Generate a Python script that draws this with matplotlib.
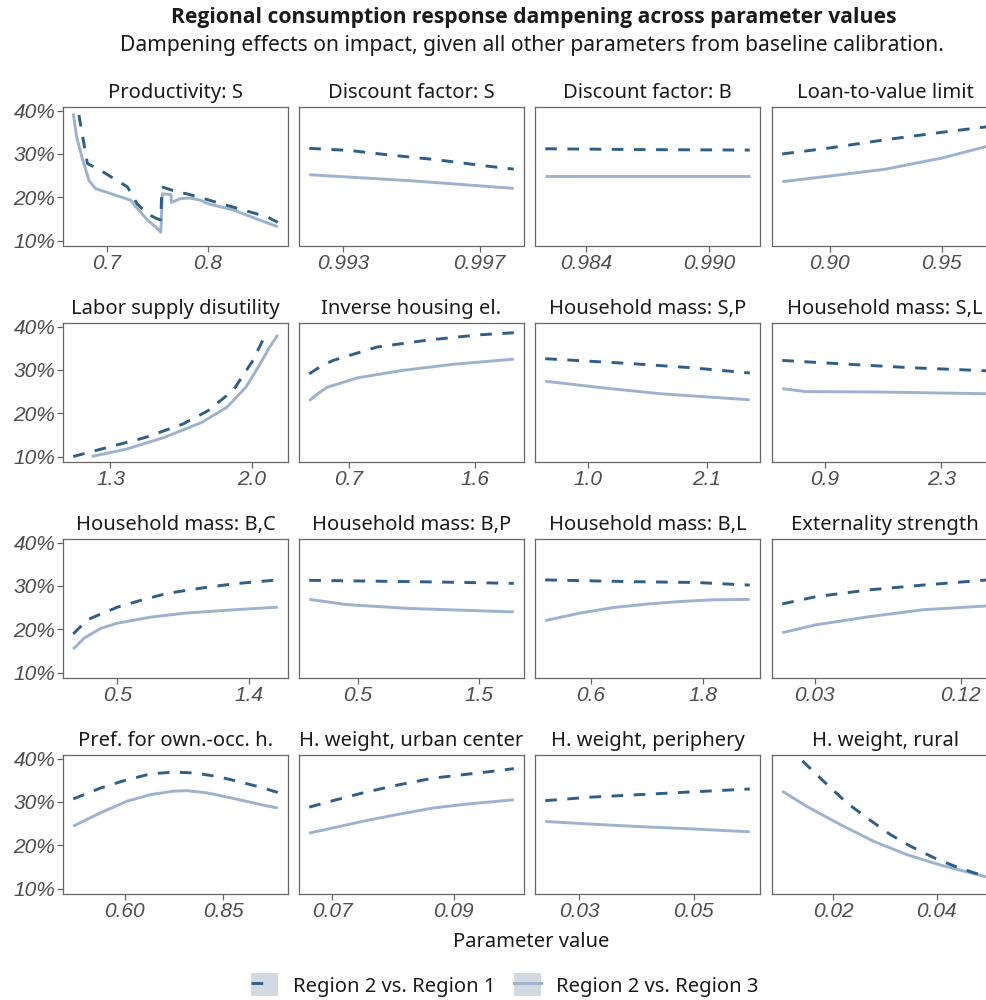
import matplotlib
matplotlib.use("Agg")
import matplotlib.pyplot as plt
from matplotlib.lines import Line2D
from matplotlib.patches import Patch
from matplotlib.legend_handler import HandlerTuple
from matplotlib.ticker import FuncFormatter, FixedLocator

# ---------------- data (in %) ----------------
panel_titles = [
    "Productivity: S", "Discount factor: S", "Discount factor: B", "Loan-to-value limit",
    "Labor supply disutility", "Inverse housing el.", "Household mass: S,P", "Household mass: S,L",
    "Household mass: B,C", "Household mass: B,P", "Household mass: B,L", "Externality strength",
    "Pref. for own.-occ. h.", "H. weight, urban center", "H. weight, periphery", "H. weight, rural",
]
tick_values = [
    [0.7, 0.8], [0.993, 0.997], [0.984, 0.990], [0.90, 0.95],
    [1.3, 2.0], [0.7, 1.6], [1.0, 2.1], [0.9, 2.3],
    [0.5, 1.4], [0.5, 1.5], [0.6, 1.8], [0.03, 0.12],
    [0.60, 0.85], [0.07, 0.09], [0.03, 0.05], [0.02, 0.04],
]
tick_labels = [
    ["0.7", "0.8"], ["0.993", "0.997"], ["0.984", "0.990"], ["0.90", "0.95"],
    ["1.3", "2.0"], ["0.7", "1.6"], ["1.0", "2.1"], ["0.9", "2.3"],
    ["0.5", "1.4"], ["0.5", "1.5"], ["0.6", "1.8"], ["0.03", "0.12"],
    ["0.60", "0.85"], ["0.07", "0.09"], ["0.03", "0.05"], ["0.02", "0.04"],
]
y_ticks = [10, 20, 30, 40]
series_names = ["Region 2 vs. Region 1", "Region 2 vs. Region 3"]

# Region 2 vs Region 1 (dashed)
r1_x_01 = [0.6726, 0.681, 0.694, 0.7205, 0.730, 0.740, 0.750, 0.7535, 0.7545, 0.770, 0.779, 0.796, 0.813, 0.836, 0.859, 0.869]
r1_y_01 = [39.0, 27.8, 26.2, 22.4, 18.5, 16.2, 15.0, 14.8, 22.4, 21.2, 20.8, 19.7, 18.5, 17.0, 15.4, 14.2]
r1_x_02 = [0.9920, 0.9932, 0.9943, 0.9957, 0.9971, 0.9980]
r1_y_02 = [31.3, 30.8, 29.8, 28.7, 27.3, 26.5]
r1_x_03 = [0.982, 0.987, 0.992]
r1_y_03 = [31.2, 31.0, 30.9]
r1_x_04 = [0.8787, 0.90, 0.925, 0.95, 0.9706]
r1_y_04 = [30.0, 31.4, 33.3, 35.0, 36.3]
r1_x_05 = [1.116, 1.285, 1.472, 1.658, 1.783, 1.907, 2.0, 2.062]
r1_y_05 = [10.0, 12.1, 14.4, 17.5, 20.6, 25.3, 31.9, 37.7]
r1_x_06 = [0.42, 0.50, 0.589, 0.903, 1.263, 1.623, 1.875]
r1_y_06 = [29.1, 30.8, 32.2, 35.3, 36.9, 38.1, 38.6]
r1_x_07 = [0.6, 1.38, 1.965, 2.5]
r1_y_07 = [32.6, 31.5, 30.5, 29.3]
r1_x_08 = [0.39, 1.204, 1.96, 2.86]
r1_y_08 = [32.2, 31.3, 30.5, 29.8]
r1_x_09 = [0.199, 0.295, 0.5, 0.682, 0.842, 1.070, 1.297, 1.594]
r1_y_09 = [18.9, 22.2, 25.1, 26.9, 28.3, 29.5, 30.5, 31.4]
r1_x_10 = [0.1, 0.667, 1.188, 1.79]
r1_y_10 = [31.3, 31.1, 30.9, 30.6]
r1_x_11 = [0.109, 1.012, 1.728, 2.30]
r1_y_11 = [31.4, 31.0, 30.8, 30.2]
r1_x_12 = [0.01, 0.0304, 0.0636, 0.0967, 0.1367]
r1_y_12 = [25.85, 27.5, 29.1, 30.2, 31.4]
r1_x_13 = [0.47, 0.539, 0.598, 0.666, 0.725, 0.776, 0.835, 0.894, 0.945, 0.9885]
r1_y_13 = [30.7, 33.2, 34.9, 36.5, 36.9, 36.7, 35.9, 34.6, 33.4, 32.2]
r1_x_14 = [0.0662, 0.0701, 0.0756, 0.0811, 0.0866, 0.0965, 0.0999]
r1_y_14 = [28.8, 30.3, 32.3, 34.0, 35.5, 37.1, 37.7]
r1_x_15 = [0.0241, 0.0319, 0.0406, 0.0493, 0.0598]
r1_y_15 = [30.3, 31.1, 31.7, 32.3, 33.0]
r1_x_16 = [0.0140, 0.0181, 0.0226, 0.0265, 0.0310, 0.0349, 0.0395, 0.0434, 0.0473, 0.0499]
r1_y_16 = [39.5, 34.8, 29.8, 26.3, 22.5, 19.8, 17.1, 15.2, 13.6, 12.8]

# Region 2 vs Region 3 (solid)
r3_x_01 = [0.667, 0.6703, 0.6759, 0.6825, 0.689, 0.7238, 0.728, 0.740, 0.750, 0.7535, 0.755, 0.7635, 0.764, 0.773, 0.7825, 0.793, 0.800, 0.826, 0.848, 0.869]
r3_y_01 = [39.4, 34.0, 29.0, 23.9, 22.0, 19.3, 18.0, 14.8, 12.8, 11.9, 20.8, 20.6, 18.8, 19.7, 19.8, 19.3, 18.5, 17.0, 15.0, 13.2]
r3_x_02 = [0.992, 0.995, 0.998]
r3_y_02 = [25.2, 23.8, 22.05]
r3_x_03 = [0.982, 0.987, 0.992]
r3_y_03 = [24.9, 24.9, 24.9]
r3_x_04 = [0.8787, 0.90, 0.925, 0.95, 0.9706]
r3_y_04 = [23.6, 24.9, 26.5, 29.05, 31.8]
r3_x_05 = [1.207, 1.378, 1.565, 1.752, 1.876, 1.969, 2.031, 2.087, 2.127]
r3_y_05 = [10.0, 11.7, 14.4, 17.9, 21.4, 26.0, 30.7, 35.3, 38.1]
r3_x_06 = [0.42, 0.48, 0.5475, 0.7675, 1.0825, 1.442, 1.875]
r3_y_06 = [22.9, 24.5, 26.0, 28.2, 29.9, 31.3, 32.5]
r3_x_07 = [0.6, 1.088, 1.673, 2.5]
r3_y_07 = [27.4, 26.0, 24.5, 23.1]
r3_x_08 = [0.39, 0.673, 1.581, 2.86]
r3_y_08 = [25.7, 25.0, 24.9, 24.5]
r3_x_09 = [0.199, 0.272, 0.386, 0.5, 0.728, 0.956, 1.297, 1.594]
r3_y_09 = [15.4, 17.9, 20.2, 21.4, 22.8, 23.7, 24.5, 25.1]
r3_x_10 = [0.1, 0.406, 0.927, 1.79]
r3_y_10 = [26.9, 25.7, 24.8, 24.0]
r3_x_11 = [0.109, 0.475, 0.833, 1.191, 1.549, 1.907, 2.30]
r3_y_11 = [22.0, 23.7, 25.0, 25.8, 26.4, 26.8, 26.9]
r3_x_12 = [0.01, 0.0304, 0.0636, 0.0967, 0.1367]
r3_y_12 = [19.2, 21.0, 22.9, 24.5, 25.4]
r3_x_13 = [0.47, 0.539, 0.607, 0.666, 0.725, 0.759, 0.809, 0.877, 0.945, 0.9885]
r3_y_13 = [24.4, 27.5, 30.2, 31.7, 32.5, 32.6, 32.1, 30.8, 29.4, 28.6]
r3_x_14 = [0.0662, 0.0701, 0.0756, 0.0811, 0.0866, 0.0921, 0.0999]
r3_y_14 = [22.8, 24.0, 25.7, 27.2, 28.6, 29.5, 30.5]
r3_x_15 = [0.0241, 0.0319, 0.0406, 0.0493, 0.0598]
r3_y_15 = [25.5, 24.9, 24.3, 23.8, 23.1]
r3_x_16 = [0.0101, 0.0148, 0.0213, 0.0278, 0.0343, 0.0408, 0.0473, 0.0499]
r3_y_16 = [32.5, 29.0, 24.8, 20.9, 17.8, 15.4, 13.4, 12.6]

r1_x = [r1_x_01, r1_x_02, r1_x_03, r1_x_04, r1_x_05, r1_x_06, r1_x_07, r1_x_08,
        r1_x_09, r1_x_10, r1_x_11, r1_x_12, r1_x_13, r1_x_14, r1_x_15, r1_x_16]
r1_y = [r1_y_01, r1_y_02, r1_y_03, r1_y_04, r1_y_05, r1_y_06, r1_y_07, r1_y_08,
        r1_y_09, r1_y_10, r1_y_11, r1_y_12, r1_y_13, r1_y_14, r1_y_15, r1_y_16]
r3_x = [r3_x_01, r3_x_02, r3_x_03, r3_x_04, r3_x_05, r3_x_06, r3_x_07, r3_x_08,
        r3_x_09, r3_x_10, r3_x_11, r3_x_12, r3_x_13, r3_x_14, r3_x_15, r3_x_16]
r3_y = [r3_y_01, r3_y_02, r3_y_03, r3_y_04, r3_y_05, r3_y_06, r3_y_07, r3_y_08,
        r3_y_09, r3_y_10, r3_y_11, r3_y_12, r3_y_13, r3_y_14, r3_y_15, r3_y_16]

# ---------------- style ----------------
C_DASH = "#2D5F8A"
C_SOLID = "#9DB2CE"
C_FRAME = "#666666"
C_TICKTXT = "#4D4D4D"
TXT_FONT = ["Noto Sans", "DejaVu Sans"]
BOLD_FONT = ["Open Sans", "Roboto", "DejaVu Sans"]
TICK_FONT = ["Liberation Sans", "DejaVu Sans"]
LW = 2.1
DASH = (0, (4.0, 3.6))

W, H = 987, 1000
fig = plt.figure(figsize=(W / 100, H / 100), dpi=100)
fig.patch.set_facecolor("white")

col_left = [63, 299, 535, 772]
col_w = [225, 225, 225, 226]
row_top = [107, 323, 539, 755]
row_h = 138.5

pct = FuncFormatter(lambda v, p: f"{v:.0f}%")

for i in range(16):
    r, c = divmod(i, 4)
    ax = fig.add_axes([col_left[c] / W, 1 - (row_top[r] + row_h) / H, col_w[c] / W, row_h / H])
    ax.plot(r1_x[i], r1_y[i], color=C_DASH, lw=LW, linestyle=DASH, zorder=3)
    ax.plot(r3_x[i], r3_y[i], color=C_SOLID, lw=LW, solid_capstyle="butt", zorder=2)
    ax.margins(x=0.05)
    ax.set_ylim(8.85, 40.85)
    ax.xaxis.set_major_locator(FixedLocator(tick_values[i]))
    ax.set_xticklabels(tick_labels[i], fontfamily=TICK_FONT, fontstyle="italic",
                       fontsize=15, color=C_TICKTXT)
    ax.tick_params(axis="x", length=4, width=0.9, color=C_FRAME, pad=2)
    if c == 0:
        ax.yaxis.set_major_locator(FixedLocator(y_ticks))
        ax.yaxis.set_major_formatter(pct)
        for lab in ax.get_yticklabels():
            lab.set_fontfamily(TICK_FONT)
            lab.set_fontstyle("italic")
            lab.set_fontsize(15)
            lab.set_color(C_TICKTXT)
        ax.tick_params(axis="y", length=4, width=0.9, color=C_FRAME, pad=1.5)
    else:
        ax.tick_params(axis="y", left=False, labelleft=False)
    for s in ax.spines.values():
        s.set_color(C_FRAME)
        s.set_linewidth(0.9)
    ax.set_facecolor("white")
    ax.set_title(panel_titles[i], fontfamily=TXT_FONT, fontsize=14.5, color="#1A1A1A", pad=6.5)

fig.text(534 / W, 1 - 18 / H, "Regional consumption response dampening across parameter values",
         ha="center", va="center", fontfamily=BOLD_FONT, fontsize=15.2, fontweight="bold", color="#1A1A1A")
fig.text(532 / W, 1 - 46 / H, "Dampening effects on impact, given all other parameters from baseline calibration.",
         ha="center", va="center", fontfamily=TXT_FONT, fontsize=15.2, color="#1A1A1A")
fig.text(531 / W, 1 - 942 / H, "Parameter value", ha="center", va="center",
         fontfamily=TXT_FONT, fontsize=14.5, color="#1A1A1A")

key_bg = "#D3D9E1"
handles = [
    (Patch(facecolor=key_bg, edgecolor="none"),
     Line2D([], [], color=C_DASH, lw=LW, linestyle=(0, (4.0, 20.0)))),
    (Patch(facecolor=key_bg, edgecolor="none"), Line2D([], [], color=C_SOLID, lw=LW)),
]
fig.legend(handles, series_names, handler_map={tuple: HandlerTuple(ndivide=1, pad=0)},
           loc="center", bbox_to_anchor=(505 / W, 15 / H), ncol=2, frameon=False,
           prop={"family": TXT_FONT, "size": 14.5}, handlelength=1.35, handleheight=1.35,
           handletextpad=0.75, columnspacing=0.9, borderpad=0.0, labelcolor="#1A1A1A")

fig.savefig("out.png", dpi=100, facecolor="white")
